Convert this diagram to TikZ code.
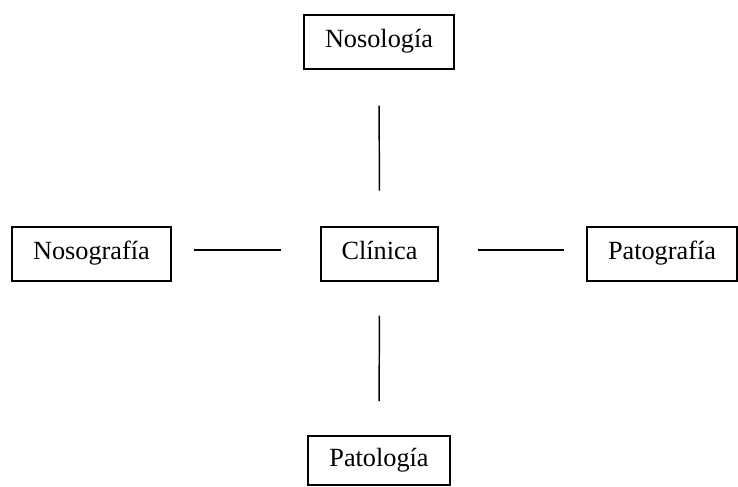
\documentclass[tikz,border=0pt]{standalone}
\usepackage{fontspec}
\setmainfont{Liberation Serif}

\tikzset{every picture/.style={line width=0.75pt}}
\tikzset{
  termbox/.style={draw, line width=1.5pt, inner xsep=15.75pt, inner ysep=0pt,
    text height=13.8pt, text depth=4.4pt,
    minimum height=40.5pt, align=center, font=\fontsize{19.7}{23}\selectfont},
  link/.style={line width=1.1pt}
}

\begin{document}
\begin{tikzpicture}[x=0.75pt,y=0.75pt,yscale=-1,xscale=1]
\useasboundingbox (0,0) rectangle (738,486);

% Text Node
\node [termbox] (nosologia) at (379,41.5) {Nosología};
% Text Node
\node [termbox] (nosografia) at (91.5,253.5) {Nosografía};
% Text Node
\node [termbox] (clinica) at (379.5,253.5) {Clínica};
% Text Node
\node [termbox] (patografia) at (662,253.5) {Patografía};
% Text Node
\node [termbox, minimum height=36.75pt] (patologia) at (379,460.5) {Patología};

%Straight Lines
\draw [link, shorten <=27pt, shorten >=26.25pt] (nosologia.south) -- (clinica.north) ;
%Straight Lines
\draw [link, shorten <=25.5pt, shorten >=25.5pt] (clinica.south) -- (patologia.north) ;
%Straight Lines
\draw [link, shorten <=16.5pt, shorten >=29.25pt] ([yshift=-2.6pt]nosografia.east) -- ([yshift=-2.6pt]clinica.west) ;
%Straight Lines
\draw [link, shorten <=29.25pt, shorten >=16.5pt] ([yshift=-2.6pt]clinica.east) -- ([yshift=-2.6pt]patografia.west) ;

\end{tikzpicture}
\end{document}
